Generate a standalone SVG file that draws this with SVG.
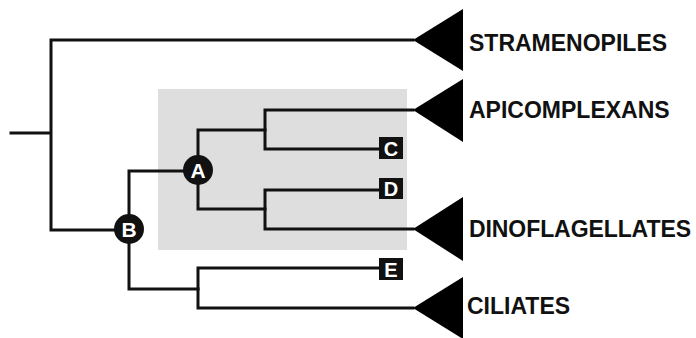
<svg xmlns="http://www.w3.org/2000/svg" width="696" height="338" viewBox="0 0 696 338">
<style>
.br{fill:none;stroke:#111;stroke-width:3;stroke-linecap:square;stroke-linejoin:miter}
.tri{fill:#000}
.lbl{font-family:"Liberation Sans",Arial,sans-serif;font-weight:bold;font-size:23px;fill:#111}
.nd{fill:#111}
.ndt{font-family:"Liberation Sans",Arial,sans-serif;font-weight:bold;font-size:21px;fill:#fff;text-anchor:middle}
.lft{font-family:"Liberation Sans",Arial,sans-serif;font-weight:bold;font-size:20px;fill:#fff;text-anchor:middle}
</style>
<rect x="158" y="89" width="249" height="161" fill="#dedede"/>
<g id="connectors">
<path class="br" d="M11 133H51M51 40V230M51 40H413M51 230H129"/>
<path class="br" d="M129 171V289M129 171H198M129 289H198"/>
<path class="br" d="M198 130V209M198 130H265M198 209H265"/>
<path class="br" d="M265 110V149M265 110H413M265 149H379"/>
<path class="br" d="M265 190V229M265 190H379M265 229H413"/>
<path class="br" d="M198 268V308M198 268H379M198 308H413"/>
</g>
<g id="stramenopiles"><polygon class="tri" points="413,40 463,9 463,71"/><text class="lbl" x="469" y="51">STRAMENOPILES</text></g>
<g id="apicomplexans"><polygon class="tri" points="413,110 463,79 463,142"/><text class="lbl" x="469" y="118">APICOMPLEXANS</text></g>
<g id="dinoflagellates"><polygon class="tri" points="413,229 463,197 463,261"/><text class="lbl" x="469" y="237" textLength="222">DINOFLAGELLATES</text></g>
<g id="ciliates"><polygon class="tri" points="413,308 463,277 463,339"/><text class="lbl" x="467" y="314">CILIATES</text></g>
<g id="nodeA"><circle class="nd" cx="198" cy="170" r="15"/><text class="ndt" x="198" y="177.5">A</text></g>
<g id="nodeB"><circle class="nd" cx="129" cy="229" r="15"/><text class="ndt" x="129" y="236.5">B</text></g>
<g id="leafC"><rect class="nd" x="379" y="137" width="24" height="22"/><text class="lft" x="391" y="155.5">C</text></g>
<g id="leafD"><rect class="nd" x="379" y="178" width="24" height="21"/><text class="lft" x="391" y="196">D</text></g>
<g id="leafE"><rect class="nd" x="379" y="258" width="24" height="22"/><text class="lft" x="391" y="276.5">E</text></g>
</svg>
